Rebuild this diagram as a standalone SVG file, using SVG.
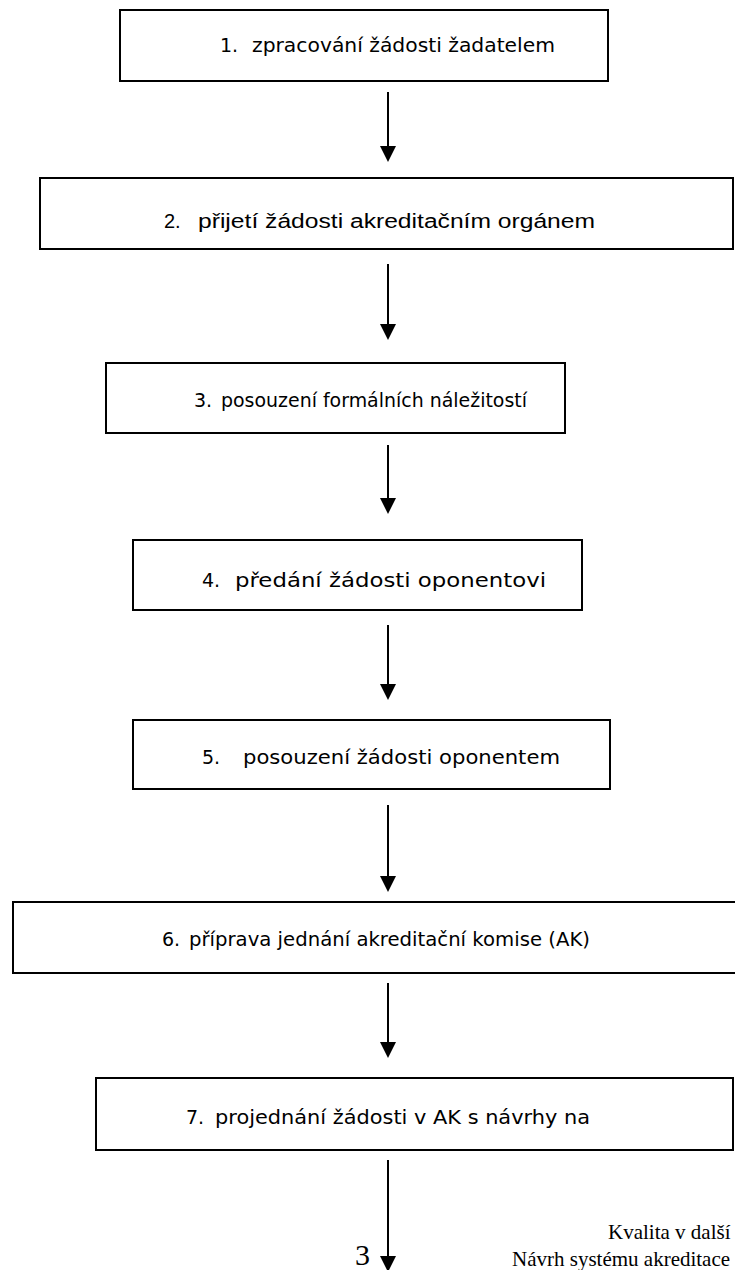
<svg xmlns="http://www.w3.org/2000/svg" width="735" height="1270" viewBox="0 0 735 1270">
<defs>
<style>
.box{fill:#fff;stroke:#000;stroke-width:2}
.t{font-family:Tahoma,"DejaVu Sans","Noto Sans",sans-serif;font-size:19px;fill:#000}
.n{font-family:"Liberation Sans",Arial,sans-serif;font-size:20px;fill:#000}
.c{stroke:#000;stroke-width:2;fill:none}
.s{font-family:"Liberation Serif","Times New Roman",serif;fill:#000}
</style>
<path id="head" d="M-8,0 L8,0 L0,16 Z" fill="#000"/>
</defs>
<rect width="735" height="1270" fill="#fff"/>
<g id="connectors">
<line class="c" x1="388" y1="92" x2="388" y2="150"/><use href="#head" x="388" y="146"/>
<line class="c" x1="388" y1="264" x2="388" y2="328"/><use href="#head" x="388" y="324"/>
<line class="c" x1="388" y1="445" x2="388" y2="502"/><use href="#head" x="388" y="498"/>
<line class="c" x1="388" y1="625" x2="388" y2="688"/><use href="#head" x="388" y="684"/>
<line class="c" x1="388" y1="805" x2="388" y2="880"/><use href="#head" x="388" y="876"/>
<line class="c" x1="388" y1="983" x2="388" y2="1046"/><use href="#head" x="388" y="1042"/>
<line class="c" x1="388" y1="1160" x2="388" y2="1260"/><use href="#head" x="388" y="1256"/>
</g>
<g id="node1">
<rect class="box" x="120" y="10" width="488" height="71"/>
<text class="t" x="220" y="52">1.</text>
<text class="t" x="252" y="52" textLength="303" lengthAdjust="spacingAndGlyphs">zpracování žádosti žadatelem</text>
</g>
<g id="node2">
<rect class="box" x="40" y="178" width="693" height="71"/>
<text class="n" x="164" y="228">2.</text>
<text class="n" x="198" y="228" textLength="397" lengthAdjust="spacingAndGlyphs">přijetí žádosti akreditačním orgánem</text>
</g>
<g id="node3">
<rect class="box" x="106" y="363" width="459" height="70"/>
<text class="t" x="194" y="407">3.</text>
<text class="t" x="221" y="407" textLength="306" lengthAdjust="spacingAndGlyphs">posouzení formálních náležitostí</text>
</g>
<g id="node4">
<rect class="box" x="133" y="540" width="449" height="70"/>
<text class="t" x="202" y="587">4.</text>
<text class="t" x="235" y="587" textLength="311" lengthAdjust="spacingAndGlyphs">předání žádosti oponentovi</text>
</g>
<g id="node5">
<rect class="box" x="133" y="720" width="477" height="69"/>
<text class="t" x="202" y="764">5.</text>
<text class="t" x="243" y="764" textLength="317" lengthAdjust="spacingAndGlyphs">posouzení žádosti oponentem</text>
</g>
<g id="node6">
<rect class="box" x="13" y="902" width="730" height="71"/>
<text class="t" x="162" y="946">6.</text>
<text class="t" x="189" y="946" textLength="401" lengthAdjust="spacingAndGlyphs">příprava jednání akreditační komise (AK)</text>
</g>
<g id="node7">
<rect class="box" x="96" y="1078" width="637" height="72"/>
<text class="t" x="186" y="1124">7.</text>
<text class="t" x="215" y="1124" textLength="375" lengthAdjust="spacingAndGlyphs">projednání žádosti v AK s návrhy na</text>
</g>
<text class="s" x="355" y="1265" font-size="30">3</text>
<text class="s" x="608" y="1239" font-size="21">Kvalita v další</text>
<text class="s" x="512" y="1266" font-size="21">Návrh systému akreditace</text>
</svg>
